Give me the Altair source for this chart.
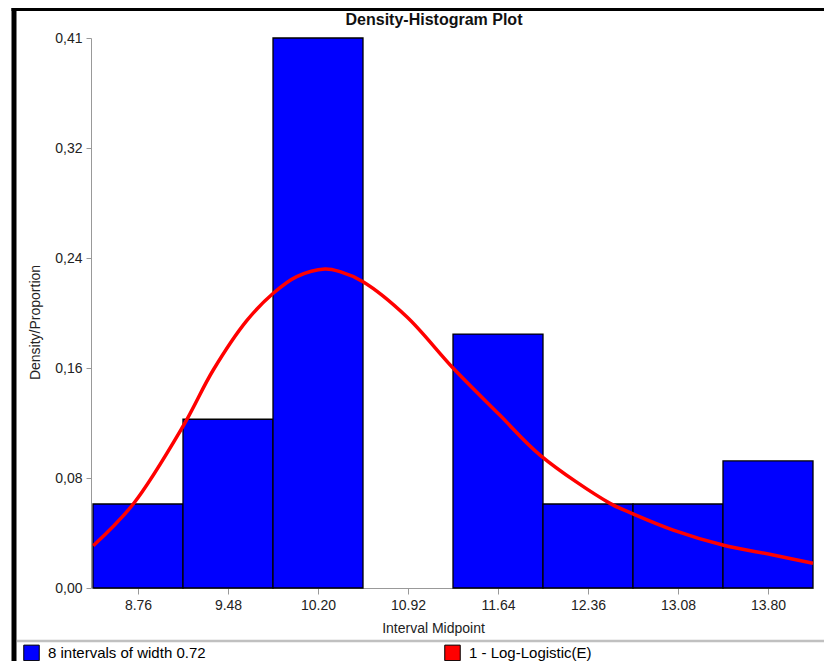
import altair as alt
import pandas as pd

# ---- data ----
midpoints = [8.76, 9.48, 10.20, 10.92, 11.64, 12.36, 13.08, 13.80]
densities = [0.0626, 0.1258, 0.41, 0.0, 0.1893, 0.0626, 0.0626, 0.0947]
bin_width = 0.72

curve_x = [8.402, 8.722, 9.118, 9.362, 9.630, 9.842, 10.030, 10.256, 10.376, 10.560,
           10.910, 11.282, 11.656, 11.976, 12.536, 12.710, 13.042, 13.438, 13.842, 14.160]
curve_y = [0.0315, 0.0626, 0.1202, 0.1625, 0.1993, 0.2197, 0.2321, 0.2378, 0.2358, 0.2283,
           0.2022, 0.1638, 0.1287, 0.0991, 0.0631, 0.0557, 0.0432, 0.0321, 0.0246, 0.0184]

y_ticks = [0, 0.082, 0.164, 0.246, 0.328, 0.41]
series_labels = ["8 intervals of width 0.72", "1 - Log-Logistic(E)"]
series_colors = ["#0000FF", "#FF0000"]
title_text = "Density-Histogram Plot"

FONT = "Liberation Sans"

bars_df = pd.DataFrame({"mid": midpoints, "density": densities})
bars_df["start"] = bars_df["mid"] - bin_width / 2
bars_df["end"] = bars_df["mid"] + bin_width / 2
bars_df["series"] = series_labels[0]
bars_df = bars_df[bars_df["density"] > 0]

curve_df = pd.DataFrame({"x": curve_x, "y": curve_y})

x_scale = alt.Scale(domain=[8.40, 14.16], nice=False, zero=False)
y_scale = alt.Scale(domain=[0, 0.41], nice=False)

x_axis = alt.Axis(
    values=midpoints, format=".2f", title="Interval Midpoint",
    labelFont=FONT, labelFontSize=14, labelColor="#222222", labelPadding=4,
    tickColor="#999999", tickSize=6, domainColor="#999999", grid=False,
    titleFont=FONT, titleFontSize=14, titleFontWeight="normal", titleColor="#222222",
    titleX=340, titleY=40, titleBaseline="middle",
)
y_axis = alt.Axis(
    values=y_ticks, title="Density/Proportion",
    labelExpr="replace(format(floor(datum.value*100+0.0001)/100, '.2f'), '.', ',')",
    labelFont=FONT, labelFontSize=14, labelColor="#222222", labelPadding=4,
    tickColor="#999999", tickSize=5, domainColor="#999999", grid=False, offset=2,
    titleFont=FONT, titleFontSize=14, titleFontWeight="normal", titleColor="#222222",
    titleX=-56, titleY=284, titleAngle=-90, titleBaseline="middle", titleAlign="center",
)

bars = alt.Chart(bars_df).mark_bar(stroke="black", strokeWidth=1.3, opacity=1).encode(
    x=alt.X("start:Q", scale=x_scale, axis=x_axis),
    x2="end:Q",
    y=alt.Y("density:Q", scale=y_scale, axis=y_axis),
    y2=alt.datum(0),
    color=alt.Color(
        "series:N",
        scale=alt.Scale(domain=series_labels, range=series_colors),
        legend=alt.Legend(
            title=None, orient="none", legendX=-70, legendY=606,
            direction="horizontal", symbolType="square", symbolSize=240,
            symbolStrokeColor="black", symbolStrokeWidth=1, symbolOpacity=1,
            labelFont=FONT, labelFontSize=15, labelColor="#000000", labelOffset=8,
            labelLimit=400, columnPadding=236, padding=0,
        ),
    ),
)

curve = alt.Chart(curve_df).mark_line(color="#FF0000", strokeWidth=3.5, interpolate="catmull-rom").encode(
    x=alt.X("x:Q", scale=x_scale),
    y=alt.Y("y:Q", scale=y_scale),
)

one = alt.Data(values=[{}])

title_mark = alt.Chart(one).mark_text(
    text=title_text, font=FONT, fontSize=16, fontWeight="bold", color="#111111",
    align="center", baseline="alphabetic",
).encode(x=alt.value(341), y=alt.value(-13.5))

separator = alt.Chart(one).mark_rule(color="#c0c0c0", strokeWidth=2.5).encode(
    x=alt.value(-76), x2=alt.value(739), y=alt.value(603)
)
frame_left = alt.Chart(one).mark_rule(color="black", strokeWidth=5, strokeCap="square").encode(
    x=alt.value(-79), y=alt.value(-29.5), y2=alt.value(700)
)
frame_top = alt.Chart(one).mark_rule(color="black", strokeWidth=5, strokeCap="square").encode(
    x=alt.value(-79), x2=alt.value(745), y=alt.value(-29.5)
)

chart = alt.layer(bars, curve, title_mark, separator, frame_left, frame_top).properties(
    width=720, height=550,
    autosize=alt.AutoSizeParams(type="none"),
    padding={"left": 85, "top": 30, "right": 11, "bottom": 73},
    background="white",
).configure_view(stroke=None)

chart.save("out.html", embed_options={"renderer": "svg", "actions": False})
